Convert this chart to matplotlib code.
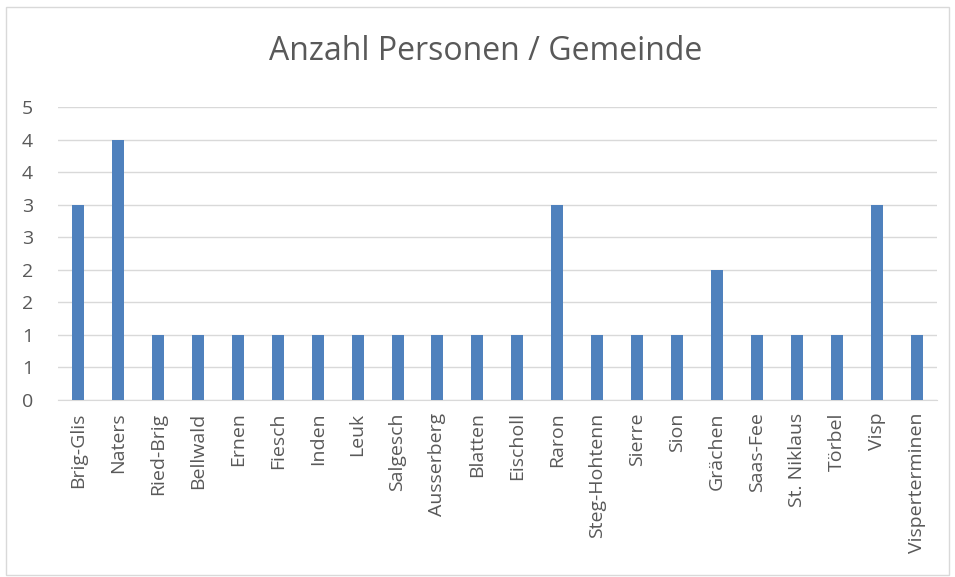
import numpy as np
import matplotlib.pyplot as plt
from matplotlib.patches import Rectangle
from matplotlib.ticker import FixedLocator, FixedFormatter

gemeinden = ['Brig-Glis', 'Naters', 'Ried-Brig', 'Bellwald', 'Ernen', 'Fiesch',
             'Inden', 'Leuk', 'Salgesch', 'Ausserberg', 'Blatten', 'Eischoll',
             'Raron', 'Steg-Hohtenn', 'Sierre', 'Sion', 'Grächen', 'Saas-Fee',
             'St. Niklaus', 'Törbel', 'Visp', 'Visperterminen']
personen = [3, 4, 1, 1, 1, 1, 1, 1, 1, 1, 1, 1, 3, 1, 1, 1, 2, 1, 1, 1, 3, 1]
# Excel-style axis: steps of 0.5, labels rounded to whole numbers
y_ticks = [0, 0.5, 1, 1.5, 2, 2.5, 3, 3.5, 4, 4.5]
y_labels = ['0', '1', '1', '2', '2', '3', '3', '4', '4', '5']

plt.rcParams['font.family'] = ['Open Sans', 'DejaVu Sans']
grey = '#595959'

fig = plt.figure(figsize=(9.55, 5.77), dpi=100)
fig.patches.append(Rectangle((0.006, 0.004), 0.988, 0.984, transform=fig.transFigure,
                             fill=False, edgecolor='#D9D9D9', lw=1))
ax = fig.add_axes([0.0607, 0.3068, 0.9203, 0.5078])

x = np.arange(len(gemeinden))
ax.bar(x, personen, width=0.3, color='#4F81BD', zorder=3)

ax.set_xlim(-0.5, len(gemeinden) - 0.5)
ax.set_ylim(0, 4.5)
ax.yaxis.set_major_locator(FixedLocator(y_ticks))
ax.yaxis.set_major_formatter(FixedFormatter(y_labels))
ax.set_xticks(x)
ax.set_xticklabels(gemeinden, rotation=90)
ax.grid(axis='y', color='#D9D9D9', lw=1, zorder=0)
for s in ['top', 'right', 'left']:
    ax.spines[s].set_visible(False)
ax.spines['bottom'].set_color('#D9D9D9')
ax.tick_params(axis='both', length=0, colors=grey, labelsize=14)
ax.tick_params(axis='x', pad=9)
ax.tick_params(axis='y', pad=18)

fig.text(0.509, 0.91, 'Anzahl Personen / Gemeinde', ha='center', va='center',
         fontsize=23, color=grey)

plt.savefig('out.png', dpi=100)
